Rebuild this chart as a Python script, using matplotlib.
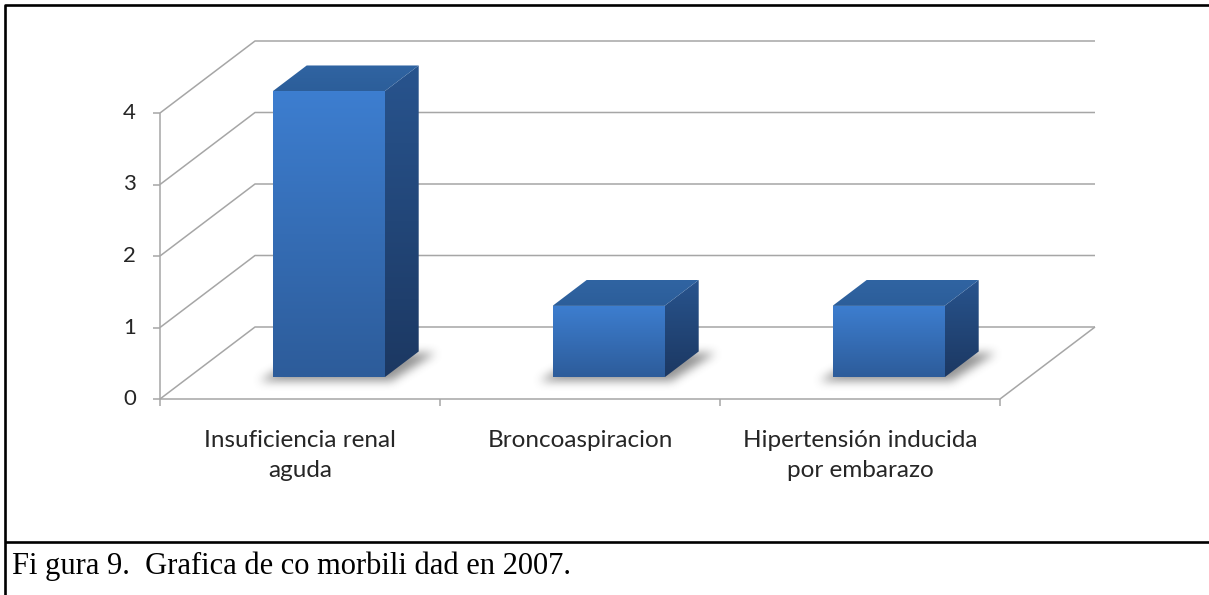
import numpy as np
import matplotlib
matplotlib.use('Agg')
import matplotlib.pyplot as plt
from matplotlib.path import Path
from matplotlib.patches import Polygon

categories = ['Insuficiencia renal\naguda', 'Broncoaspiracion', 'Hipertensión inducida\npor embarazo']
values = [4, 1, 1]
yticks = [0, 1, 2, 3, 4]
caption = 'Fi gura 9.  Grafica de co morbili dad en 2007.'

W, H = 1209, 595
fig = plt.figure(figsize=(W / 100, H / 100), dpi=100)
fig.patch.set_facecolor('white')

# front plane of the 3d box, in category / value units
ax = fig.add_axes([160 / W, (H - 399) / H, 840 / W, 286 / H])
ax.set_xlim(-0.5, len(values) - 0.5)
ax.set_ylim(0, max(yticks))
ax.axis('off')

# overlay in pixel units to draw the projected shapes
ov = fig.add_axes([0, 0, 1, 1], zorder=3)
ov.axis('off')
ov.set_autoscale_on(False)

DX, DY = 95, 72  # depth offset of the back wall, pixels


def P(x, y, d=0.0):
    px, py = ax.transData.transform((x, y))
    return (px + DX * d, py + DY * d)


grid = dict(color='#a6a6a6', lw=1.1, solid_capstyle='butt')
xmax = len(values) - 0.5
for v in yticks:
    a, b, c = P(-0.5, v), P(-0.5, v, 1), P(xmax, v, 1)
    ov.plot([a[0], b[0], c[0]], [a[1], b[1], c[1]], zorder=1, **grid)
    ov.plot([a[0] - 7, a[0]], [a[1], a[1]], zorder=1, **grid)
    ov.text(a[0] - 24, a[1], str(v), ha='right', va='center', fontsize=16,
            family='Lato', color='#262626')

a, b, c = P(-0.5, 0), P(xmax, 0), P(xmax, 0, 1)
ov.plot([a[0], b[0], c[0]], [a[1], b[1], c[1]], zorder=1, **grid)
t = P(-0.5, max(yticks))
ov.plot([a[0], t[0]], [a[1], t[1]], zorder=1, **grid)
for xb in np.arange(-0.5, len(values)):
    p = P(xb, 0)
    ov.plot([p[0], p[0]], [p[1], p[1] - 7], zorder=1, **grid)

for i, cat in enumerate(categories):
    p = P(i, 0)
    ov.text(p[0], p[1] - 31, cat, ha='center', va='top', fontsize=17.5,
            family='Lato', color='#262626', linespacing=1.55)

d0, d1, half = 0.3, 0.66, 0.2

# soft shadow on the floor
yy, xx = np.mgrid[0:H, 0:W]
pts = np.column_stack([xx.ravel() + 0.5, yy.ravel() + 0.5])
mask = np.zeros(H * W)
for i, v in enumerate(values):
    q = [P(i - half, 0, d0), P(i + half, 0, d0), P(i + half, 0, d1), P(i - half, 0, d1)]
    q = [(q[0][0] - 14, q[0][1] - 4), (q[1][0] + 6, q[1][1] - 4),
         (q[2][0] + 16, q[2][1] - 2), (q[3][0], q[3][1] - 2)]
    mask = np.maximum(mask, Path(q).contains_points(pts).astype(float))
mask = mask.reshape(H, W)


def blur(a, r):
    for axis in (0, 1):
        pad = [(r + 1, r) if k == axis else (0, 0) for k in range(2)]
        c = np.cumsum(np.pad(a, pad, mode='edge'), axis=axis)
        n = c.shape[axis]
        a = (np.take(c, range(2 * r + 1, n), axis) - np.take(c, range(0, n - 2 * r - 1), axis)) / (2 * r + 1)
    return a


for _ in range(3):
    mask = blur(mask, 4)
shadow = np.zeros((H, W, 4))
shadow[..., :3] = 0.3
shadow[..., 3] = 0.6 * mask
ov.imshow(shadow, extent=(0, W, 0, H), origin='lower', aspect='auto', zorder=2)


def grad_fill(pts_, c_top, c_bot, z):
    patch = Polygon(pts_, closed=True, facecolor='none', edgecolor='none')
    ov.add_patch(patch)
    xs, ys = zip(*pts_)
    g = np.linspace(0, 1, 256)[:, None, None]
    img = (1 - g) * np.array(c_top)[None, None, :] + g * np.array(c_bot)[None, None, :]
    im = ov.imshow(img / 255.0, extent=(min(xs), max(xs), min(ys), max(ys)),
                   origin='upper', aspect='auto', zorder=z)
    im.set_clip_path(patch)


for i, v in enumerate(values):
    fl, fr = P(i - half, 0, d0), P(i + half, 0, d0)
    tl, tr = P(i - half, v, d0), P(i + half, v, d0)
    btl, btr = P(i - half, v, d1), P(i + half, v, d1)
    bbr = P(i + half, 0, d1)
    grad_fill([fr, bbr, btr, tr], (40, 84, 142), (28, 56, 98), 4)
    grad_fill([tl, tr, btr, btl], (48, 100, 162), (44, 94, 154), 4)
    grad_fill([fl, fr, tr, tl], (61, 126, 208), (45, 92, 154), 5)

# frame and caption
frame = dict(color='black', lw=1.9, solid_capstyle='butt')
ov.plot([5, 5, W + 5], [0, H - 5, H - 5], zorder=6, **frame)
ov.plot([5, W + 5], [H - 542, H - 542], zorder=6, **frame)
ov.text(12, H - 566, caption, ha='left', va='center', fontsize=22,
        family='Liberation Serif', color='black')

ov.set_xlim(0, W)
ov.set_ylim(0, H)
fig.savefig('out.png', dpi=100)
